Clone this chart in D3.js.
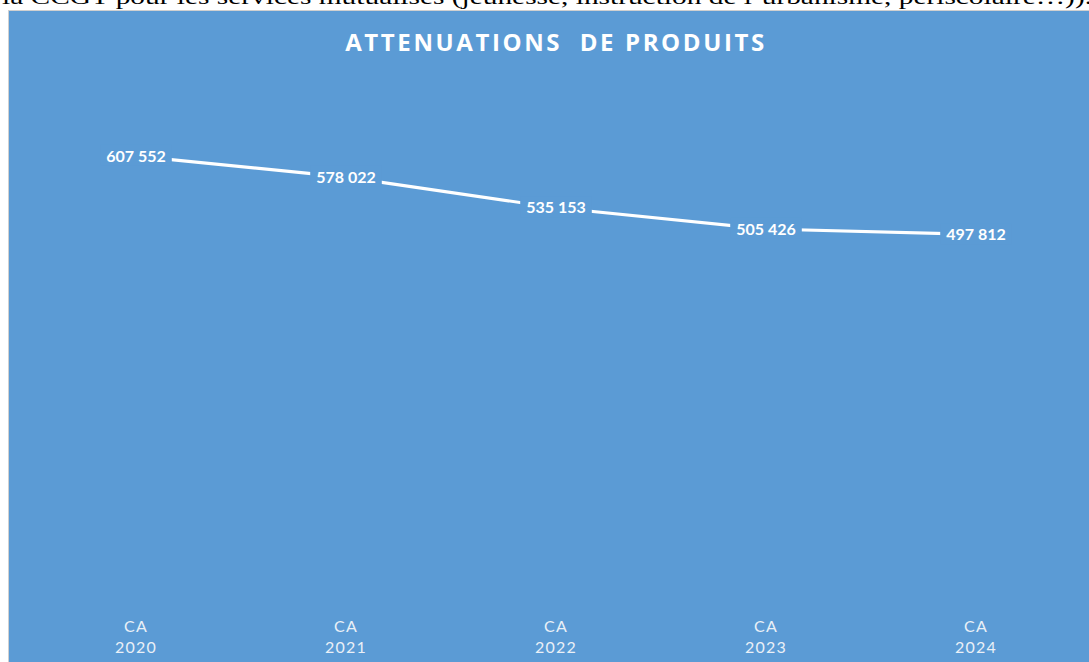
<!DOCTYPE html>
<html>
<head>
<meta charset="utf-8">
<script src="https://cdn.jsdelivr.net/npm/d3@7"></script>
<style>
  html, body { margin:0; padding:0; background:#fff; overflow:hidden; }
  svg { display:block; }
</style>
</head>
<body>
<svg id="chart" width="1089" height="662"></svg>
<script>
// data
const categories = ["CA 2020", "CA 2021", "CA 2022", "CA 2023", "CA 2024"];
const values = [607552, 578022, 535153, 505426, 497812];
const title = "ATTENUATIONS  DE PRODUITS";
const topLine = "la CCGT pour les services mutualisés (jeunesse, instruction de l’urbanisme, périscolaire…)).";

const W = 1089, H = 662, BLUE = "#5b9bd5";
const svg = d3.select("#chart");

// cut-off paragraph text above the chart
svg.append("text").attr("x", 2).attr("y", 4).style("font-family", "'Liberation Serif', serif")
  .style("font-size", "21px").attr("fill", "#000").attr("textLength", 1090).attr("lengthAdjust", "spacingAndGlyphs").text(topLine);

// chart frame
svg.append("rect").attr("x", 8.5).attr("y", 10.5).attr("width", W).attr("height", H)
  .attr("fill", BLUE).attr("stroke", "#d0d0d0").attr("stroke-width", 1);

svg.append("text").attr("x", 556).attr("y", 51).attr("text-anchor", "middle").attr("fill", "#fff")
  .style("font-family", "'Open Sans', sans-serif").style("font-weight", "bold").style("font-size", "24px")
  .style("letter-spacing", "2.6px").attr("xml:space", "preserve").text(title);

const x = d3.scaleBand().domain(categories).range([31, 1081]);
const y = d3.scaleLinear().domain([0, 700000]).range([590, 90]);
const cx = d => x(d) + x.bandwidth()/2;

const line = d3.line().x((d, i) => cx(categories[i])).y(d => y(d));
svg.append("path").datum(values).attr("d", line).attr("fill", "none").attr("stroke", "#fff")
  .attr("stroke-width", 3.2).attr("stroke-linejoin", "round");

// data labels, centred on points with background knocking out the line
const fmt = v => d3.format(",")(v).replace(/,/g, " ");
const labels = svg.append("g").selectAll("g").data(values).join("g")
  .attr("transform", (d, i) => `translate(${cx(categories[i])},${y(d)})`);
labels.append("text").attr("text-anchor", "middle").attr("dy", "0.35em").attr("fill", "#fff")
  .style("font-family", "Lato, 'Open Sans', sans-serif").style("font-weight", "bold").style("font-size", "16px")
  .text(fmt);
labels.each(function() {
  const t = d3.select(this).select("text"), b = t.node().getBBox();
  d3.select(this).insert("rect", "text").attr("x", b.x-6).attr("y", b.y-1).attr("width", b.width+12).attr("height", b.height+2).attr("fill", BLUE);
});

// category axis
const xAxis = svg.append("g").selectAll("text").data(categories).join("text")
  .attr("x", d => cx(d)).attr("y", 632).attr("text-anchor", "middle").attr("fill", "#eaf0f7")
  .style("font-family", "Lato, 'Open Sans', sans-serif").style("font-size", "16px").style("letter-spacing", "1.2px");
xAxis.selectAll("tspan").data(d => d.split(" ")).join("tspan").attr("x", function() { return this.parentNode.getAttribute("x"); })
  .attr("dy", (d, i) => i ? 21 : 0).text(d => d);
</script>
</body>
</html>
